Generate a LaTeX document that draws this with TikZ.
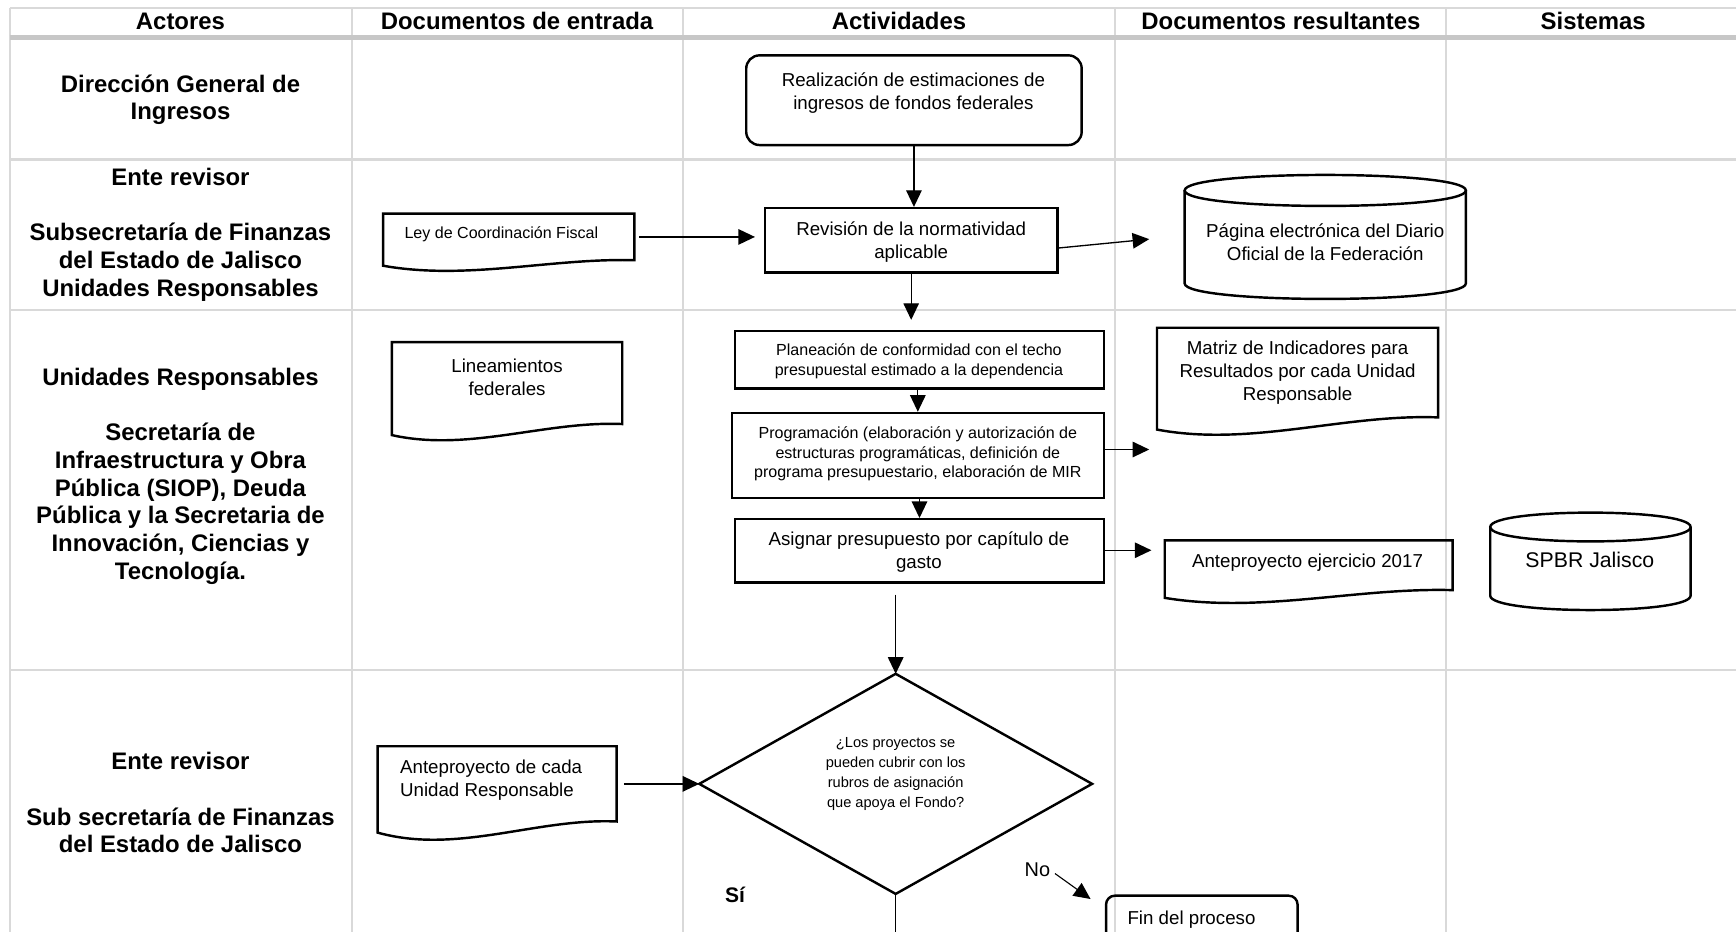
\documentclass[tikz,border=0pt]{standalone}
\usepackage{fontspec}
\setmainfont{Liberation Sans}
\usetikzlibrary{fit,calc,arrows.meta}

\tikzset{
  gridln/.style={draw=black!15, line width=1pt},
  hdrln/.style={draw=black!22, line width=2pt},
  shp/.style={draw=black, line width=1.1pt},
  conn/.style={line width=0.6pt, -{Triangle[length=7.5pt,width=7pt]}},
  hdr/.style={font=\bfseries\fontsize{10.8pt}{12.5pt}\selectfont, inner sep=0pt},
  actor/.style={font=\bfseries\fontsize{10.8pt}{12.5pt}\selectfont, align=center, inner sep=0pt},
  txt/.style={font=\fontsize{8.45pt}{10.4pt}\selectfont, align=center, inner sep=0pt},
  smalltxt/.style={font=\fontsize{7.25pt}{8.9pt}\selectfont, align=center, inner sep=0pt},
  tinytxt/.style={font=\fontsize{6.6pt}{9pt}\selectfont, align=center, inner sep=0pt},
}

% document shape: name, x0, ytop, x1, ybottom(right), left extra drop, dip depth
\newcommand\docshape[7]{%
  \node[inner sep=0pt, fit={(#2,#3) (#4,#5)}] (#1) {};
  \draw[shp] (#4,#5) -- (#4,#3) -- (#2,#3) -- (#2,{#5+#6})
    .. controls ({#2+(#4-#2)/3},{#5+2.3*#7-0.9*#6}) and ({#2+2*(#4-#2)/3},{#5-0.2*#7}) .. (#4,#5) -- cycle;
}
% cylinder: name, x0, ytop-centre, x1, ybottom-centre, ry
\newcommand\cylshape[6]{%
  \node[inner sep=0pt, fit={(#2,{#3-#6}) (#4,{#5+#6})}] (#1) {};
  \draw[shp] (#2,#3) .. controls (#2,{#3-1.3333*#6}) and (#4,{#3-1.3333*#6}) .. (#4,#3)
    .. controls (#4,{#3+1.3333*#6}) and (#2,{#3+1.3333*#6}) .. (#2,#3) -- cycle;
  \draw[shp] (#2,#3) -- (#2,#5) .. controls (#2,{#5+1.3333*#6}) and (#4,{#5+1.3333*#6}) .. (#4,#5) -- (#4,#3);
}

\begin{document}
\begin{tikzpicture}[x=0.5pt,y=-0.5pt]
\useasboundingbox (0,0) rectangle (1568,841);
\clip (0,0) rectangle (1568,841);
\fill[white] (0,0) rectangle (1568,841);

% grid
\foreach \x in {9,318,617,1007,1306} \draw[gridln] (\x,7) -- (\x,850);
\foreach \y in {7,144,280,605} \draw[gridln] (9,\y) -- (1575,\y);
\draw[hdrln] (9,34) -- (1575,34);

% headers
\node[hdr] (h1) at (163,19) {Actores};
\node[hdr] (h2) at (467,19) {Documentos de entrada};
\node[hdr] (h3) at (812,19) {Actividades};
\node[hdr] (h4) at (1157,19) {Documentos resultantes};
\node[hdr] (h5) at (1439,19) {Sistemas};

% actors
\node[actor] (r1) at (163,90) {Dirección General de\\Ingresos};
\node[actor] (r2) at (163,212) {Ente revisor\\[12.5pt]Subsecretaría de Finanzas\\del Estado de Jalisco\\Unidades Responsables};
\node[actor] (r3) at (163,430) {Unidades Responsables\\[12.5pt]Secretaría de\\Infraestructura y Obra\\Pública (SIOP), Deuda\\Pública y la Secretaria de\\Innovación, Ciencias y\\Tecnología.};
\node[actor] (r4) at (163,725) {Ente revisor\\[12.5pt]Sub secretaría de Finanzas\\del Estado de Jalisco};

% activities
\node[shp, rounded corners=6pt, inner sep=0pt, fit={(674,50) (977,131)}] (est) {};
\node[txt] (estT) at (825,84) {Realización de estimaciones de\\ingresos de fondos federales};

\node[shp, inner sep=0pt, fit={(691,188) (955,246)}] (rev) {};
\node[txt] (revT) at (823,219) {Revisión de la normatividad\\aplicable};

\node[shp, inner sep=0pt, fit={(664,299) (997,351)}] (plan) {};
\node[smalltxt] (planT) at (830,326) {Planeación de conformidad con el techo\\presupuestal estimado a la dependencia};

\node[shp, inner sep=0pt, fit={(661,373) (997,450)}] (prog) {};
\node[smalltxt] (progT) at (829,410) {Programación (elaboración y autorización de\\estructuras programáticas, definición de\\programa presupuestario, elaboración de MIR};

\node[shp, inner sep=0pt, fit={(664,469) (997,526)}] (asg) {};
\node[txt] (asgT) at (830,499) {Asignar presupuesto por capítulo de\\gasto};

\node[inner sep=0pt, fit={(632,609) (986,807)}] (dia) {};
\draw[shp] (dia.north) -- (dia.east) -- (dia.south) -- (dia.west) -- cycle;
\node[tinytxt] (diaT) at (809,699) {¿Los proyectos se\\pueden cubrir con los\\rubros de asignación\\que apoya el Fondo?};

\node[shp, rounded corners=4pt, inner sep=0pt, fit={(999,809) (1172,880)}] (fin) {};
\node[txt, anchor=west] (finT) at (1018,831) {Fin del proceso};

% input documents
\docshape{ley}{346}{193}{573}{235}{5}{10}
\node[smalltxt, anchor=west] (leyT) at (365,212) {Ley de Coordinación Fiscal};

\docshape{lin}{354}{309}{562}{383}{10}{15}
\node[txt] (linT) at (458,341) {Lineamientos\\federales};

\docshape{antc}{341}{674}{557}{742}{10}{17}
\node[txt, anchor=west, align=left] (antcT) at (361,705) {Anteproyecto de cada\\Unidad Responsable};

% output documents
\cylshape{dof}{1070}{172}{1324}{256}{14}
\node[txt] (dofT) at (1197,219) {Página electrónica del Diario\\Oficial de la Federación};

\docshape{mir}{1045}{296}{1299}{377}{11}{16}
\node[txt] (mirT) at (1172,337) {Matriz de Indicadores para\\Resultados por cada Unidad\\Responsable};

\docshape{ape}{1052}{488}{1312}{533}{7}{12}
\node[txt] (apeT) at (1181,508) {Anteproyecto ejercicio 2017};

% systems
\cylshape{spbr}{1346}{476}{1527}{538}{13}
\node[font=\fontsize{9.6pt}{11pt}\selectfont, inner sep=0pt] (spbrT) at (1436,506) {SPBR Jalisco};

% labels
\node[font=\fontsize{9pt}{10pt}\selectfont, inner sep=0pt] (no) at (937,786) {No};
\node[font=\bfseries\fontsize{9.5pt}{10pt}\selectfont, inner sep=0pt] (si) at (664,808) {Sí};

% connectors
\draw[conn] (est.south) -- (est.south |- rev.north);
\draw[conn] ($(ley.east)+(4,0)$) -- ($(ley.east -| rev.west)+(-8,0)$);
\coordinate (revout) at (1038,216);
\draw[conn] ($(rev.east)+(0,7)$) -- (revout);
\draw[conn, shorten >=4.5pt] (rev.south) -- (rev.south |- plan.north);
\draw[conn] (prog.north |- plan.south) -- (prog.north);
\draw[conn] (asg.north |- prog.south) -- (asg.north);
\coordinate (progout) at (1038,406);
\draw[conn] (prog.east |- progout) -- (progout);
\coordinate (asgout) at (1040,497);
\draw[conn] (asg.east |- asgout) -- (asgout);
\coordinate (asgdown) at (809,537);
\draw[conn] (asgdown) -- (dia.north);
\draw[conn] ($(antc.east)+(6,0)$) -- (dia.west);
\coordinate (noend) at (985,812);
\draw[conn, line width=0.5pt] ($(no.east)+(4,3)$) -- (noend);
\coordinate (diaend) at (809,850);
\draw[line width=0.6pt] (dia.south) -- (diaend);
\end{tikzpicture}
\end{document}
